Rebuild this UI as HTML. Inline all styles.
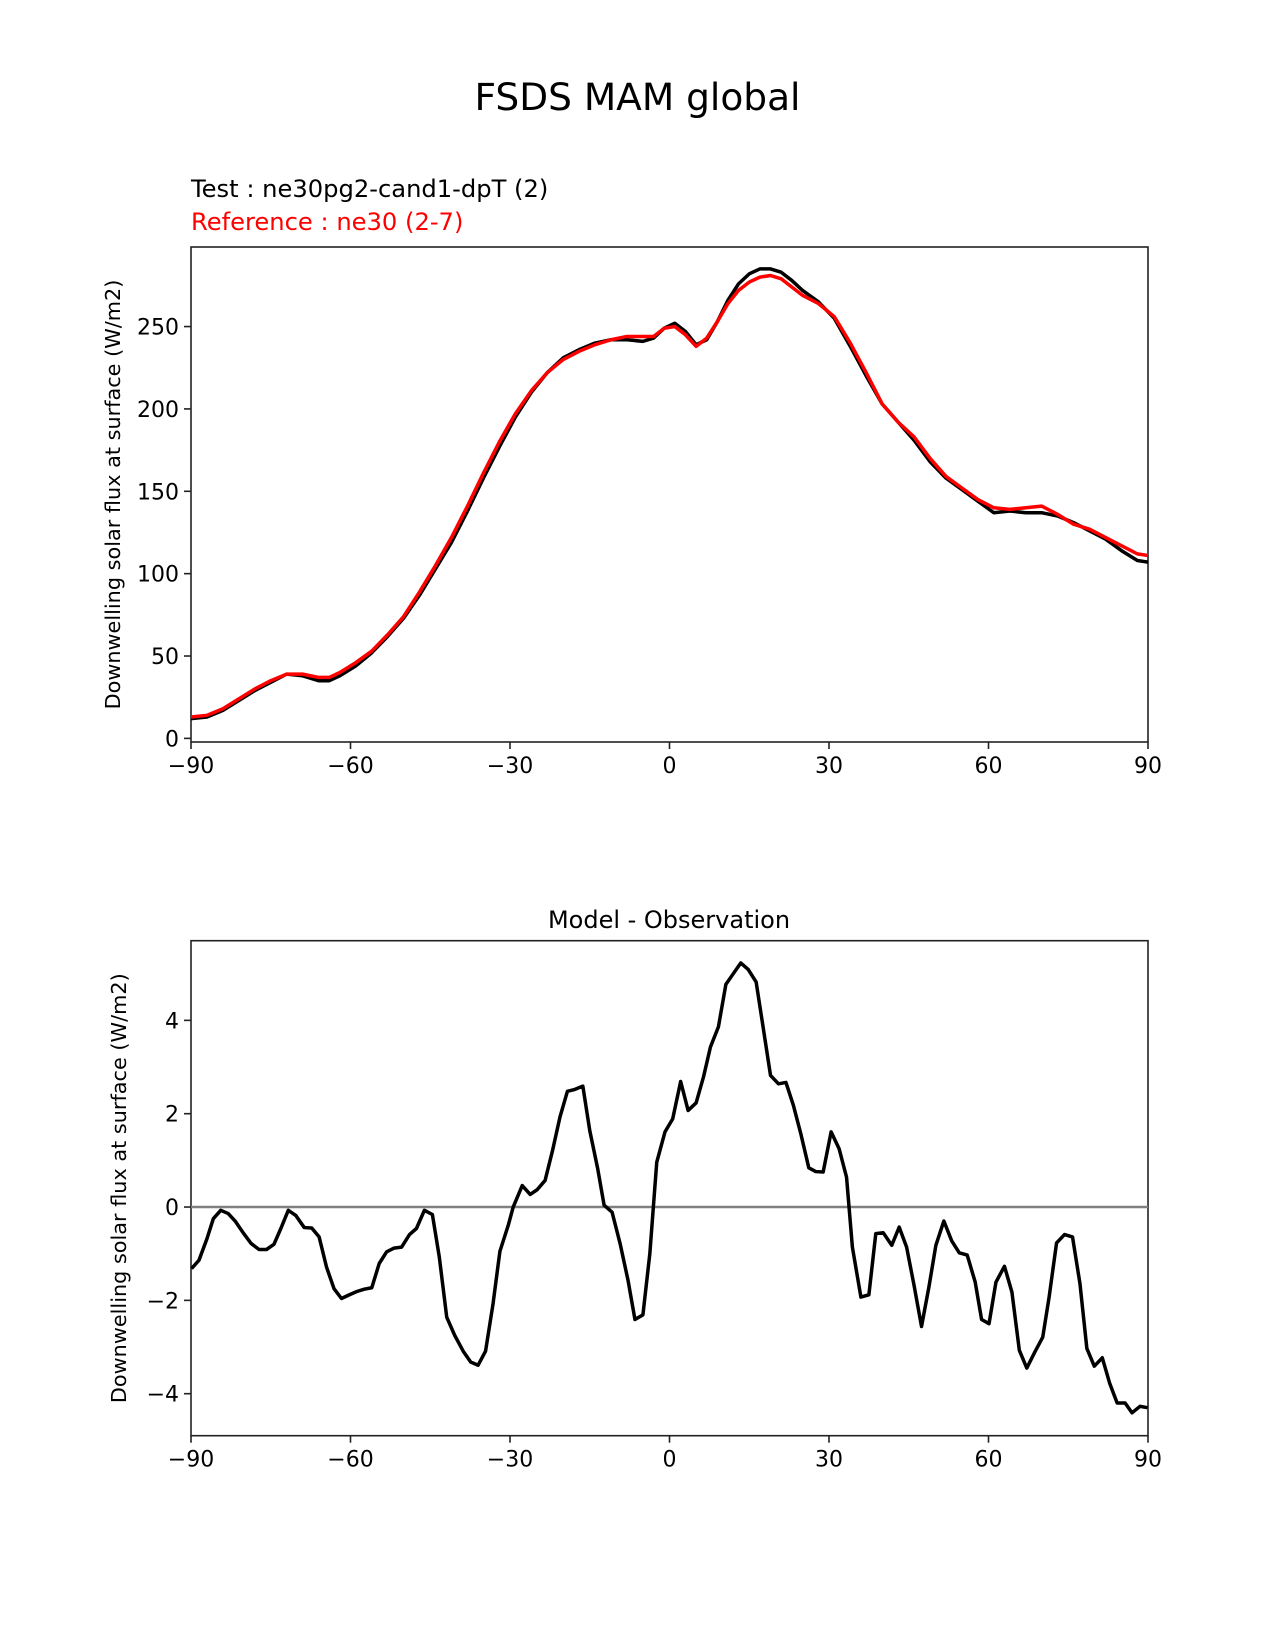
<!DOCTYPE html>
<html><head><meta charset="utf-8"><style>
html,body{margin:0;padding:0;background:#fff;}
svg{display:block;font-family:"DejaVu Sans","Liberation Sans",sans-serif;}
</style></head><body>
<svg id="fig" width="1275" height="1650" viewBox="0 0 1275 1650">
<text x="637.5" y="110" font-size="37.5" text-anchor="middle">FSDS MAM global</text>
<text x="191" y="197" font-size="24.2">Test : ne30pg2-cand1-dpT (2)</text>
<text x="191" y="230" font-size="24.2" fill="#ff0000">Reference : ne30 (2-7)</text>
<g id="top"></g>
<text x="669" y="928" font-size="24" text-anchor="middle">Model - Observation</text>
<g id="bot"></g>
</svg>
<script>
const xTicks=[-90,-60,-30,0,30,60,90];
const topYTicks=[0,50,100,150,200,250];
const botYTicks=[-4,-2,0,2,4];
const topLats=[-90,-87,-84,-81,-78,-75,-72,-69,-66,-64,-62,-59,-56,-53,-50,-47,-44,-41,-38,-35,-32,-29,-26,-23,-20,-17,-14,-11,-8,-5,-3,-1,1,3,5,7,9,11,13,15,17,19,21,23,25,28,31,34,37,40,43,46,49,52,55,58,61,64,67,70,73,76,79,82,85,88,90];
const testVals=[12,13,17,23,29,34,39,38,35,35,38,44,52,62,73,87,103,119,138,158,177,195,210,222,231,236,240,242,242,241,243,249,252,247,239,242,253,266,276,282,285,285,283,278,272,265,255,238,220,203,192,181,168,158,151,144,137,138,137,137,135,131,126,121,114,108,107];
const refVals=[13,14,18,24,30,35,39,39,37,37,40,46,53,63,74,89,105,122,141,161,180,197,211,222,230,235,239,242,244,244,244,249,250,245,238,243,253,264,272,277,280,281,279,274,269,264,256,240,222,203,192,183,170,159,152,145,140,139,140,141,136,130,127,122,117,112,111];
const diffLats=[-89.9,-88.5,-87.0,-85.8,-84.4,-83.0,-81.7,-80.2,-78.7,-77.2,-75.8,-74.4,-73.1,-71.7,-70.3,-68.7,-67.3,-65.9,-64.5,-63.1,-61.7,-60.2,-58.8,-57.4,-56.0,-54.6,-53.2,-51.8,-50.4,-48.9,-47.6,-46.1,-44.6,-43.3,-41.9,-40.4,-38.8,-37.4,-36.0,-34.6,-33.2,-31.9,-30.3,-29.4,-27.7,-26.2,-24.9,-23.4,-22.0,-20.6,-19.2,-17.8,-16.3,-15.0,-13.5,-12.3,-10.8,-9.3,-7.8,-6.5,-5.0,-3.7,-2.4,-0.85,0.6,2.1,3.5,5.0,6.4,7.7,9.2,10.6,12.0,13.4,14.8,16.3,17.6,19.0,20.5,21.9,23.3,24.7,26.2,27.5,28.9,30.4,31.9,33.3,34.4,36.0,37.5,38.8,40.2,41.8,43.2,44.6,46.0,47.4,48.8,50.1,51.6,53.1,54.5,56.0,57.5,58.7,60.1,61.4,63.0,64.4,65.8,67.2,68.7,70.2,71.4,72.8,74.3,75.8,77.2,78.5,79.9,81.4,82.8,84.2,85.7,87.0,88.5,89.9];
const diffVals=[-1.32,-1.14,-0.68,-0.25,-0.07,-0.14,-0.30,-0.55,-0.78,-0.91,-0.91,-0.80,-0.46,-0.07,-0.18,-0.44,-0.45,-0.64,-1.29,-1.75,-1.96,-1.88,-1.81,-1.76,-1.73,-1.21,-0.96,-0.88,-0.86,-0.59,-0.46,-0.07,-0.16,-1.07,-2.36,-2.75,-3.09,-3.32,-3.39,-3.09,-2.08,-0.95,-0.38,0.0,0.46,0.27,0.37,0.57,1.21,1.93,2.48,2.52,2.59,1.64,0.82,0.04,-0.11,-0.78,-1.57,-2.41,-2.31,-1.0,0.96,1.61,1.89,2.69,2.07,2.23,2.79,3.43,3.86,4.77,5.0,5.23,5.09,4.82,3.86,2.82,2.64,2.67,2.18,1.57,0.84,0.76,0.75,1.61,1.25,0.64,-0.86,-1.93,-1.88,-0.57,-0.55,-0.82,-0.43,-0.86,-1.68,-2.56,-1.71,-0.82,-0.30,-0.73,-0.98,-1.03,-1.61,-2.41,-2.50,-1.61,-1.27,-1.82,-3.07,-3.45,-3.11,-2.79,-1.93,-0.77,-0.59,-0.64,-1.64,-3.03,-3.41,-3.23,-3.78,-4.2,-4.2,-4.41,-4.27,-4.30];

const NS='http://www.w3.org/2000/svg';
function mk(parent,tag,attrs){const e=document.createElementNS(NS,tag);for(const k in attrs)e.setAttribute(k,attrs[k]);parent.appendChild(e);return e;}
const X0=191,X1=1148;
function xs(l){return X0+(l+90)/180*(X1-X0);}
function fmt(v){return v<0?'\u2212'+Math.abs(v):String(v);}

function drawAxes(g,top,bot,ymin,ymax,yTicks,yLabelX,ylab){
  const ys=v=>bot-(v-ymin)/(ymax-ymin)*(bot-top);
  const fr=mk(g,'rect',{x:X0,y:top,width:X1-X0,height:bot-top,fill:'none',stroke:'#222','stroke-width':1.6});
  
  
  xTicks.forEach(t=>{
    const x=xs(t);
    const tk=mk(g,'line',{x1:x,x2:x,y1:bot,y2:bot+7,stroke:'#222','stroke-width':1.6});
    
    
    const tl=mk(g,'text',{x:x,y:bot+31,'font-size':22,'text-anchor':'middle'});
    tl.textContent=fmt(t);
    
    
  });
  yTicks.forEach(t=>{
    const y=ys(t);
    const tk=mk(g,'line',{x1:X0-7,x2:X0,y1:y,y2:y,stroke:'#222','stroke-width':1.6});
    
    
    const tl=mk(g,'text',{x:X0-12,y:y+8,'font-size':22,'text-anchor':'end'});
    tl.textContent=fmt(t);
    
    
  });
  const cy=(top+bot)/2;
  const yl=mk(g,'text',{x:yLabelX,y:cy,'font-size':20.8,'text-anchor':'middle',transform:`rotate(-90 ${yLabelX} ${cy})`});
  yl.textContent=ylab;
  
  
  return ys;
}
function line(g,lats,vals,ys,color,w,name){
  const pts=lats.map((l,i)=>xs(l).toFixed(2)+','+ys(vals[i]).toFixed(2)).join(' ');
  const p=mk(g,'polyline',{points:pts,fill:'none',stroke:color,'stroke-width':w,'stroke-linejoin':'round','stroke-linecap':'butt'});
  
  
  return p;
}
const ylab='Downwelling solar flux at surface (W/m2)';
const gt=document.getElementById('top');
const ysT=drawAxes(gt,247,742,-2.2,298.3,topYTicks,120,ylab);
line(gt,topLats,testVals,ysT,'#000',3.5,'test-series');
line(gt,topLats,refVals,ysT,'#ff0000',3.5,'reference-series');
const gb=document.getElementById('bot');
const ysB=drawAxes(gb,940.7,1435.7,-4.9,5.707,botYTicks,126,ylab);
const zl=mk(gb,'line',{x1:X0,x2:X1,y1:ysB(0),y2:ysB(0),stroke:'#808080','stroke-width':2.5});


line(gb,diffLats,diffVals,ysB,'#000',3.5,'difference-series');
</script>
</body></html>
